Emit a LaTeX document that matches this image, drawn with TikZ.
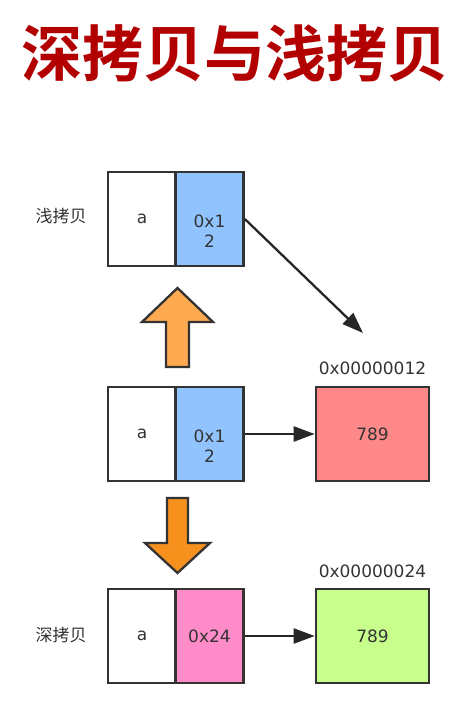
\documentclass[tikz,border=0pt]{standalone}
\usepackage{fontspec}
\setmainfont{DejaVu Sans}
\newfontfamily\cjk[BoldFont={Noto Sans CJK SC Bold}]{Noto Sans CJK SC}
\usetikzlibrary{positioning, arrows.meta}

\definecolor{titlered}{RGB}{178,0,0}
\definecolor{inkgray}{RGB}{51,51,51}
\definecolor{ptrblue}{RGB}{145,196,255}
\definecolor{ptrpink}{RGB}{255,140,200}
\definecolor{heapred}{RGB}{255,137,137}
\definecolor{heapgreen}{RGB}{200,255,140}
\definecolor{uporange}{RGB}{255,170,80}
\definecolor{downorange}{RGB}{247,145,30}

\begin{document}
\begin{tikzpicture}[
  x=1pt, y=-1pt,
  cell/.style={draw=inkgray, line width=2.6pt, minimum width=68pt, minimum height=94pt,
               inner sep=0pt, font=\fontsize{17}{20}\selectfont, text=inkgray, align=center},
  heap/.style={cell, minimum width=113pt},
  addr/.style={font=\fontsize{17}{20}\selectfont, text=inkgray},
  side/.style={font=\cjk\fontsize{17}{20}\selectfont, text=inkgray},
  ptr/.style={line width=2.3pt, draw=black!85, -{Triangle[length=21pt, width=15pt]}},
  blk/.style={draw=inkgray, line width=2.3pt, line join=miter},
]
  \useasboundingbox (0,0) rectangle (466,706);

  % Title
  \node[font=\cjk\bfseries\fontsize{61}{61}\selectfont, text=titlered] (title) at (235,53)
    {深拷贝与浅拷贝};

  % Shallow copy row
  \node[side] (lshallow) at (61,216) {浅拷贝};
  \node[cell] (sa) at (142,219) {a};
  \node[cell, fill=ptrblue] (sp) at (209.5,219) {};
  \node[cell, draw=none, minimum height=0pt] (spt) at (209.5,231) {0x1\\2};
  \coordinate (stip) at (363,333);
  \draw[ptr] (sp.east) -- (stip);

  % Original row
  \node[cell] (oa) at (142,434) {a};
  \node[cell, fill=ptrblue] (op) at (209.5,434) {};
  \node[cell, draw=none, minimum height=0pt] (opt) at (209.5,446) {0x1\\2};
  \node[heap, fill=heapred] (oh) at (372.5,434) {789};
  \node[addr] (oaddr) at (372.5,368) {0x00000012};
  \draw[ptr] (op.east) -- (oh.west);

  % Deep copy row
  \node[side] (ldeep) at (61,635) {深拷贝};
  \node[cell] (da) at (142,636) {a};
  \node[cell, fill=ptrpink] (dp) at (209.5,636) {0x24};
  \node[heap, fill=heapgreen] (dh) at (372.5,636) {789};
  \node[addr] (daddr) at (372.5,571) {0x00000024};
  \draw[ptr] (dp.east) -- (dh.west);

  % Block arrows
  \draw[blk, fill=uporange] (177.5,288) -- (213,322) -- (189,322) -- (189,367)
    -- (166,367) -- (166,322) -- (142,322) -- cycle;
  \draw[blk, fill=downorange] (177.5,573) -- (210,543) -- (188,543) -- (188,498)
    -- (167,498) -- (167,543) -- (145,543) -- cycle;

\end{tikzpicture}
\end{document}
